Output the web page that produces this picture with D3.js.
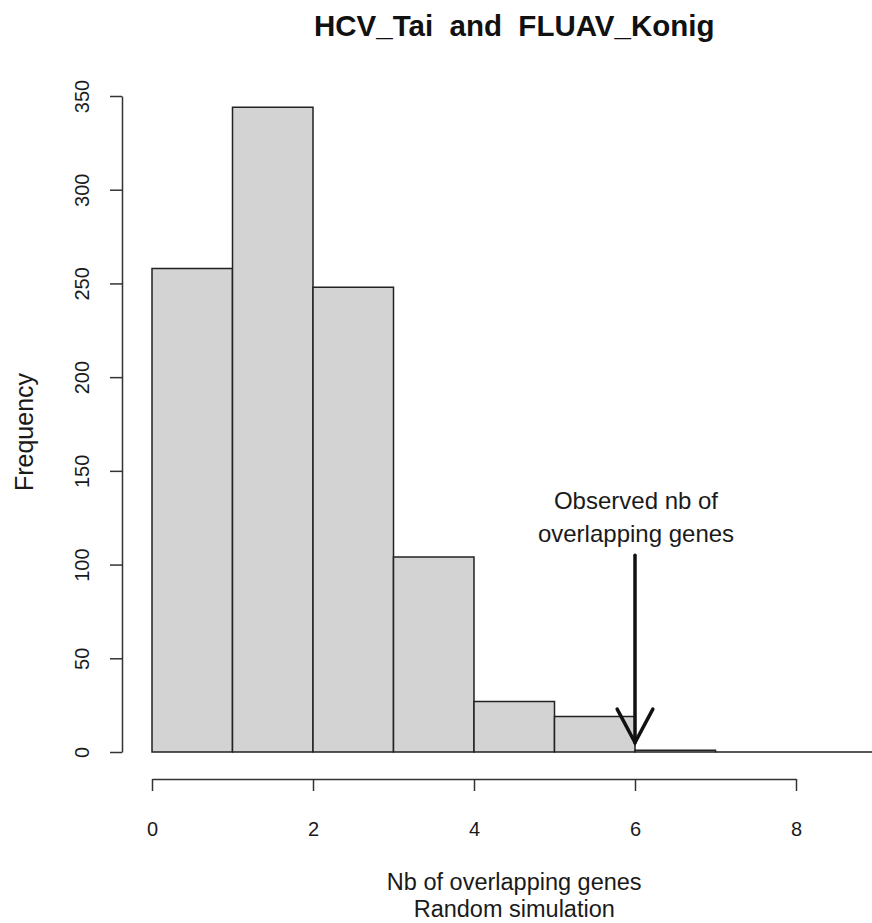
<!DOCTYPE html>
<html>
<head>
<meta charset="utf-8">
<script src="https://cdn.jsdelivr.net/npm/d3@7"></script>
<style>
  html, body { margin: 0; padding: 0; background: #fff; }
  svg { display: block; font-family: "Liberation Sans", Arial, sans-serif; }
  .pre { white-space: pre; }
</style>
</head>
<body>
<svg id="chart" width="872" height="923"></svg>
<script>
// ---- data ----
const binStarts = [0, 1, 2, 3, 4, 5, 6, 7, 8];
const binEnds   = [1, 2, 3, 4, 5, 6, 7, 8, 9];
const frequencies = [258, 344, 248, 104, 27, 19, 1, 0, 0];
const xTickValues = [0, 2, 4, 6, 8];
const yTickValues = [0, 50, 100, 150, 200, 250, 300, 350];
const observedValue = 6;
const arrowFrom = 105;
const arrowTo = 5;
const titleText = "HCV_Tai  and  FLUAV_Konig";
const xLabelLines = ["Nb of overlapping genes", "Random simulation"];
const yLabelText = "Frequency";
const noteLines = ["Observed nb of", "overlapping genes"];

// ---- chart ----
const svg = d3.select("#chart");
const x = d3.scaleLinear().domain([0, 8]).range([152, 796]);
const y = d3.scaleLinear().domain([0, 350]).range([752, 96]);
const ink = "#1a1a1a";

// bars (drawn as paths so zero-height bins still show their outline)
svg.append("g").selectAll("path")
  .data(frequencies)
  .join("path")
  .attr("d", (d, i) => {
    const x0 = x(binStarts[i]), x1 = x(binEnds[i]), y0 = y(0), y1 = y(d);
    return `M${x0},${y0}V${y1}H${x1}V${y0}Z`;
  })
  .attr("fill", "#d3d3d3")
  .attr("stroke", "#222")
  .attr("stroke-width", 1.5);

// x axis
const xAxis = svg.append("g")
  .attr("transform", "translate(0,779)")
  .call(d3.axisBottom(x).tickValues(xTickValues).tickSize(12).tickSizeOuter(0).tickPadding(0));
xAxis.select(".domain").attr("stroke", "#333").attr("stroke-width", 1.5);
xAxis.selectAll(".tick line").attr("stroke", "#333").attr("stroke-width", 1.5);
xAxis.selectAll(".tick text")
  .attr("y", 57).attr("dy", null)
  .attr("font-size", 20).attr("fill", ink)
  .attr("font-family", "Liberation Sans, Arial, sans-serif");

// y axis
const yAxis = svg.append("g")
  .attr("transform", "translate(122,0)")
  .call(d3.axisLeft(y).tickValues(yTickValues).tickSize(12).tickSizeOuter(0));
yAxis.select(".domain").attr("stroke", "#333").attr("stroke-width", 1.5);
yAxis.selectAll(".tick line").attr("stroke", "#333").attr("stroke-width", 1.5);
yAxis.selectAll(".tick text")
  .attr("transform", "rotate(-90)")
  .attr("x", 0).attr("y", -33).attr("dy", null)
  .attr("text-anchor", "middle")
  .attr("font-size", 20).attr("fill", ink)
  .attr("font-family", "Liberation Sans, Arial, sans-serif");

// title
svg.append("text")
  .attr("class", "pre")
  .attr("x", x(4.5)).attr("y", 36)
  .attr("text-anchor", "middle")
  .attr("font-weight", "bold")
  .attr("font-size", 29.5)
  .attr("fill", "#111")
  .text(titleText);

// x label
svg.append("g").selectAll("text")
  .data(xLabelLines)
  .join("text")
  .attr("x", x(4.5))
  .attr("y", (d, i) => 890 + i * 26.5)
  .attr("text-anchor", "middle")
  .attr("font-size", 23.5)
  .attr("fill", ink)
  .text(d => d);

// y label
svg.append("text")
  .attr("transform", `translate(33,${(y(0) + y(350)) / 2 + 8}) rotate(-90)`)
  .attr("text-anchor", "middle")
  .attr("font-size", 25)
  .attr("fill", ink)
  .text(yLabelText);

// annotation text
svg.append("g").selectAll("text")
  .data(noteLines)
  .join("text")
  .attr("x", x(observedValue) + 1)
  .attr("y", (d, i) => 509 + i * 33)
  .attr("text-anchor", "middle")
  .attr("font-size", 24)
  .attr("fill", ink)
  .text(d => d);

// arrow
const ax = x(observedValue), ay0 = y(arrowFrom), ay1 = y(arrowTo);
const headLen = 38, headAng = 28 * Math.PI / 180;
const arrow = svg.append("g").attr("stroke", "#111").attr("stroke-width", 3.5).attr("fill", "none")
  .attr("stroke-linecap", "round");
arrow.append("line").attr("x1", ax).attr("y1", ay0).attr("x2", ax).attr("y2", ay1);
arrow.append("path")
  .attr("stroke-linejoin", "miter")
  .attr("d", d3.line()([
    [ax - headLen * Math.sin(headAng), ay1 - headLen * Math.cos(headAng)],
    [ax, ay1],
    [ax + headLen * Math.sin(headAng), ay1 - headLen * Math.cos(headAng)]
  ]));
</script>
</body>
</html>
